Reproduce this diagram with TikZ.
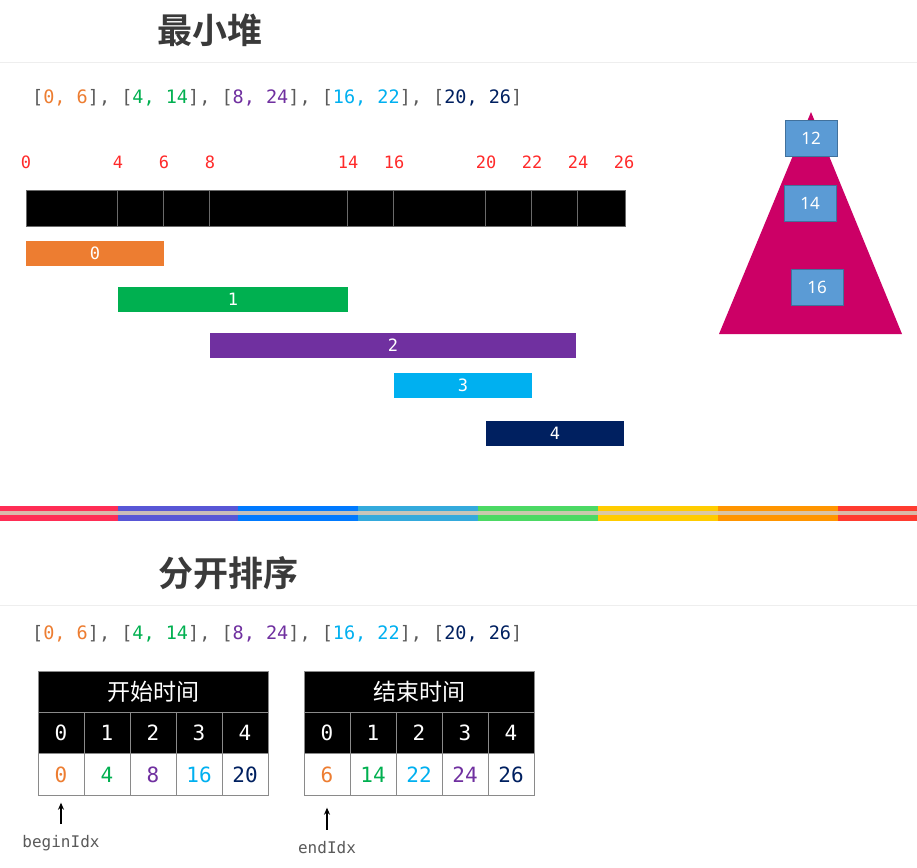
\documentclass[tikz,border=0pt]{standalone}
\usepackage{fontspec}
\setmainfont{Noto Sans}
\newfontfamily\cjk{Noto Sans CJK SC}[BoldFont={Noto Sans CJK SC Bold}]
\newfontfamily\codefont{DejaVu Sans Mono}
\usetikzlibrary{arrows.meta}

\definecolor{ivgray}{HTML}{5A5A5A}
\definecolor{ivorange}{HTML}{ED7D31}
\definecolor{ivgreen}{HTML}{00B050}
\definecolor{ivpurple}{HTML}{7030A0}
\definecolor{ivblue}{HTML}{00B0F0}
\definecolor{ivnavy}{HTML}{002060}
\definecolor{tickred}{HTML}{FF2A2A}
\definecolor{titlegray}{HTML}{3A3A3A}
\definecolor{rulegray}{HTML}{EEEEEE}
\definecolor{divgray}{HTML}{6A6A6A}
\definecolor{cellgray}{HTML}{8A8A8A}
\definecolor{heapred}{HTML}{CC0066}
\definecolor{heapblue}{HTML}{5B9BD5}
\definecolor{heapedge}{HTML}{41719C}
\definecolor{sred}{HTML}{FF2D55}
\definecolor{sindigo}{HTML}{5856D6}
\definecolor{sblue}{HTML}{007AFF}
\definecolor{steal}{HTML}{34AADC}
\definecolor{sgreen}{HTML}{4CD964}
\definecolor{syellow}{HTML}{FFCC00}
\definecolor{sorange}{HTML}{FF9500}
\definecolor{sred2}{HTML}{FF3B30}
\definecolor{smid}{RGB}{215,200,182}

\newcommand{\intervaltext}{%
    {\color{ivgray}[}{\color{ivorange}0, 6}{\color{ivgray}], [}%
    {\color{ivgreen}4, 14}{\color{ivgray}], [}%
    {\color{ivpurple}8, 24}{\color{ivgray}], [}%
    {\color{ivblue}16, 22}{\color{ivgray}], [}%
    {\color{ivnavy}20, 26}{\color{ivgray}]}}

\begin{document}
\begin{tikzpicture}[x=1pt,y=-1pt,>=Stealth]
    \tikzset{
        title/.style={
            font=\cjk\bfseries\fontsize{35}{35}\selectfont,
            text=titlegray
        },
        ivline/.style={
            anchor=west,
            inner sep=0pt,
            font=\codefont\fontsize{18.5}{20}\selectfont
        },
        tick/.style={
            inner sep=0pt,
            text=tickred,
            font=\codefont\fontsize{17}{17}\selectfont
        },
        bar/.style={
            minimum height=25pt,
            inner sep=0pt,
            text=white,
            font=\codefont\fontsize{17}{17}\selectfont
        },
        heapbox/.style={
            draw=heapedge,
            fill=heapblue,
            minimum width=52pt,
            minimum height=36pt,
            inner sep=0pt,
            text=white,
            font=\fontsize{17}{17}\selectfont
        },
        tabhead/.style={
            draw=cellgray,
            fill=black,
            text=white,
            minimum width=230pt,
            minimum height=41pt,
            inner sep=0pt,
            font=\cjk\fontsize{23}{23}\selectfont
        },
        cellidx/.style={
            draw=cellgray,
            fill=black,
            text=white,
            minimum width=46pt,
            minimum height=42pt,
            inner sep=0pt,
            font=\codefont\fontsize{21}{21}\selectfont
        },
        cellval/.style={cellidx,fill=white},
        idxlabel/.style={
            inner sep=0pt,
            text=ivgray,
            font=\codefont\fontsize{16}{16}\selectfont
        },
        pointer/.style={->,line width=1.3pt,>={Stealth[length=7pt,width=6pt]}}
    }

    \fill[white] (0,0) rectangle (917,867);
    \useasboundingbox (0,0) rectangle (917,867);

    % min heap
    \node[title] (heaptitle) at (210,30) {最小堆};
    \draw[rulegray,line width=1pt] (0,62) -- (917,62);
    \node[ivline] (heapiv) at (32,98) {\intervaltext};

    \foreach \v in {0,4,6,8,14,16,20,22,24,26}
        \node[tick] (t\v) at ({26+23*\v},162) {\v};

    \node[fill=black,draw=divgray,minimum width=599pt,minimum height=36pt,inner sep=0pt]
        (timeline) at (325.5,208.5) {};
    \foreach \v in {4,6,8,14,16,20,22,24}
        \draw[divgray,line width=0.8pt] (timeline.north west) ++({23*\v},0) -- ++(0,36);

    \node[bar,fill=ivorange,minimum width=138pt] (bar0) at (95,253.5) {0};
    \node[bar,fill=ivgreen,minimum width=230pt] (bar1) at (233,299.5) {1};
    \node[bar,fill=ivpurple,minimum width=366pt] (bar2) at (393,345.5) {2};
    \node[bar,fill=ivblue,minimum width=138pt] (bar3) at (463,385.5) {3};
    \node[bar,fill=ivnavy,minimum width=138pt] (bar4) at (555,433.5) {4};

    \fill[heapred] (811,112) -- (902,334) -- (719,334) -- cycle;
    \node[heapbox] (h12) at (811,138) {12};
    \node[heapbox] (h14) at (810,203) {14};
    \node[heapbox] (h16) at (817,287) {16};

    % divider
    \foreach \c [count=\i from 0] in {sred,sindigo,sblue,steal,sgreen,syellow,sorange,sred2}
        \fill[\c] ({-2+120*\i},506) rectangle ++(120,14.5);
    \fill[smid,opacity=0.9] (0,511) rectangle (917,514.5);

    % separate sort
    \node[title] (sorttitle) at (228.5,573) {分开排序};
    \draw[rulegray,line width=1pt] (0,605) -- (917,605);
    \node[ivline] (sortiv) at (32,634) {\intervaltext};

    \node[tabhead] (beginhead) at (153,691.5) {开始时间};
    \node[cellidx] (bi0) at (61,733) {0};
    \node[cellidx] (bi1) at (107,733) {1};
    \node[cellidx] (bi2) at (153,733) {2};
    \node[cellidx] (bi3) at (199,733) {3};
    \node[cellidx] (bi4) at (245,733) {4};
    \node[cellval,text=ivorange] (bv0) at (61,774.5) {0};
    \node[cellval,text=ivgreen] (bv1) at (107,774.5) {4};
    \node[cellval,text=ivpurple] (bv2) at (153,774.5) {8};
    \node[cellval,text=ivblue] (bv3) at (199,774.5) {16};
    \node[cellval,text=ivnavy] (bv4) at (245,774.5) {20};

    \node[tabhead] (endhead) at (419,691.5) {结束时间};
    \node[cellidx] (ei0) at (327,733) {0};
    \node[cellidx] (ei1) at (373,733) {1};
    \node[cellidx] (ei2) at (419,733) {2};
    \node[cellidx] (ei3) at (465,733) {3};
    \node[cellidx] (ei4) at (511,733) {4};
    \node[cellval,text=ivorange] (ev0) at (327,774.5) {6};
    \node[cellval,text=ivgreen] (ev1) at (373,774.5) {14};
    \node[cellval,text=ivblue] (ev2) at (419,774.5) {22};
    \node[cellval,text=ivpurple] (ev3) at (465,774.5) {24};
    \node[cellval,text=ivnavy] (ev4) at (511,774.5) {26};

    \node[idxlabel] (beginlbl) at (61,843) {beginIdx};
    \node[idxlabel] (endlbl) at (327,848) {endIdx};
    \draw[pointer,shorten <=11pt,shorten >=7pt] (beginlbl) -- (bv0);
    \draw[pointer,shorten <=12pt,shorten >=12pt] (endlbl) -- (ev0);
\end{tikzpicture}
\end{document}
